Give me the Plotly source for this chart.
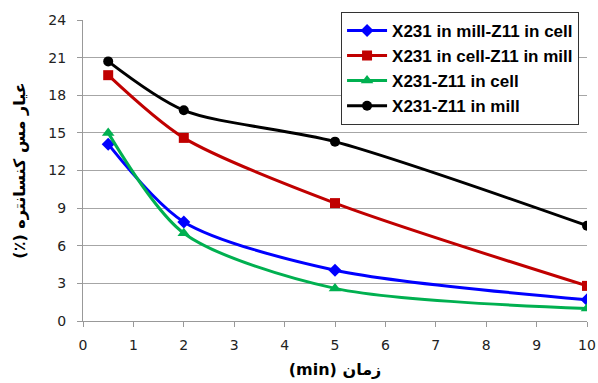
import plotly.graph_objects as go

time_min = [0.5, 2, 5, 10]
blue_vals = [14.1, 7.9, 4.05, 1.7]
red_vals = [19.6, 14.6, 9.4, 2.8]
green_vals = [15.0, 7.0, 2.6, 1.0]
black_vals = [20.7, 16.8, 14.3, 7.6]

names = ["X231 in mill-Z11 in cell", "X231 in cell-Z11 in mill",
         "X231-Z11 in cell", "X231-Z11 in mill"]
colors = ["#0000FF", "#C00000", "#00B050", "#000000"]
symbols = ["diamond", "square", "triangle-up", "circle"]
sizes = [10, 10, 11, 10]
series = [blue_vals, red_vals, green_vals, black_vals]

y_ticks = [0, 3, 6, 9, 12, 15, 18, 21, 24]
x_ticks = list(range(0, 11))

fig = go.Figure()
for name, vals, c, s, sz in zip(names, series, colors, symbols, sizes):
    fig.add_trace(go.Scatter(
        x=time_min, y=vals, name=name, mode="lines+markers",
        line=dict(color=c, width=3, shape="spline", smoothing=0.8),
        marker=dict(color=c, symbol=s, size=sz),
    ))

axis_font = dict(family="DejaVu Sans", size=14, color="#222222")
fig.update_layout(
    width=598, height=383,
    margin=dict(l=83, r=11, t=20, b=62),
    paper_bgcolor="white", plot_bgcolor="white",
    showlegend=True,
    legend=dict(
        x=0.512, y=1.027, xanchor="left", yanchor="top",
        bgcolor="white", bordercolor="#333333", borderwidth=1,
        font=dict(family="Liberation Sans", size=17, color="black", weight="bold"),
        tracegroupgap=0, itemwidth=40,
    ),
    xaxis=dict(
        range=[0, 10], tickvals=x_ticks, showgrid=False, automargin=False,
        showline=True, linecolor="#999999", linewidth=1,
        ticks="outside", ticklen=5, tickcolor="#999999",
        tickfont=axis_font, zeroline=False, ticklabelstandoff=6,
        title=dict(text="(min) زمان", font=dict(family="DejaVu Sans", size=16, color="black", weight="bold"), standoff=12),
    ),
    yaxis=dict(
        range=[0, 24], tickvals=y_ticks, showgrid=True, gridcolor="#A6A6A6", gridwidth=1,
        automargin=False,
        showline=True, linecolor="#999999", linewidth=1,
        ticks="outside", ticklen=5, tickcolor="#999999",
        tickfont=axis_font, zeroline=False, ticklabelstandoff=8,
        title=dict(text="(٪) عیار مس کنسانتره", font=dict(family="DejaVu Sans", size=16, color="black", weight="bold"), standoff=18),
    ),
)

fig.write_html("out.html")
